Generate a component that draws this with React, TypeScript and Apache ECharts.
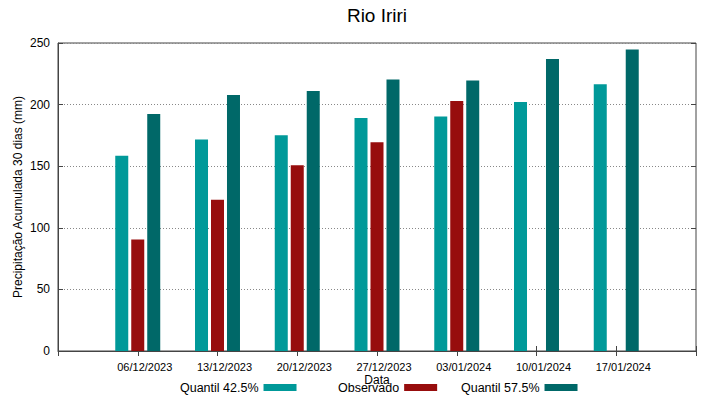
import React, { useEffect, useRef } from "react";
import * as echarts from "echarts";

const dates = ["06/12/2023", "13/12/2023", "20/12/2023", "27/12/2023", "03/01/2024", "10/01/2024", "17/01/2024"];
const quantil425 = [158.5, 171.7, 175.2, 189.1, 190.4, 202.1, 216.5];
const observado: (number | null)[] = [90.5, 122.8, 150.8, 169.5, 202.9, null, null];
const quantil575 = [192.3, 207.8, 211.0, 220.3, 219.5, 237.1, 244.7];
const yTicks = [0, 50, 100, 150, 200, 250];

const FONT = "Liberation Sans, Arial, sans-serif";
const C1 = "#009999";
const C2 = "#970d0d";
const C3 = "#006868";

export default function App() {
  const ref = useRef<HTMLDivElement>(null);
  useEffect(() => {
    if (!ref.current) return;
    const chart = echarts.init(ref.current, null, { renderer: "svg" });
    const cats = ["", ...dates, ""];
    const pad = (arr: (number | null)[]) => ["-", ...arr.map((v) => (v == null ? "-" : v)), "-"];
    const legendBase = (name: string, left: number) => ({
      data: [name],
      left,
      top: 381,
      padding: 0,
      align: "right" as const,
      icon: "rect",
      itemWidth: 33,
      itemHeight: 7,
      selectedMode: false,
      textStyle: { fontFamily: FONT, fontSize: 12.5, color: "#000" },
    });
    const barCommon = { type: "bar" as const, barWidth: 13, barGap: "23%" };
    chart.setOption({
      animation: false,
      backgroundColor: "#fff",
      title: {
        text: "Rio Iriri",
        left: 372,
        top: 1,
        textAlign: "center",
        textStyle: { fontFamily: FONT, fontSize: 19, fontWeight: "normal", color: "#000" },
      },
      legend: [
        legendBase("Quantil 42.5%", 180),
        legendBase("Observado", 338),
        legendBase("Quantil 57.5%", 461),
      ],
      grid: { left: 58, right: 23, top: 43, bottom: 48, show: true, borderColor: "#444", borderWidth: 1 },
      xAxis: [
        {
          type: "category",
          data: cats,
          boundaryGap: false,
          name: "Data",
          nameLocation: "middle",
          nameGap: 23,
          nameMoveOverlap: false,
          nameTextStyle: { fontFamily: FONT, fontSize: 12, color: "#000" },
          axisLine: { show: true, lineStyle: { color: "#444" } },
          axisTick: { show: true, inside: true, length: 5, interval: 0, lineStyle: { color: "#444" } },
          axisLabel: { interval: 0, margin: 10, fontFamily: FONT, fontSize: 11, color: "#000", padding: [0, 0, 0, 14] },
          splitLine: { show: false },
        },
        {
          type: "category",
          data: cats,
          boundaryGap: false,
          position: "top",
          axisLine: { show: false },
          axisTick: { show: true, inside: true, length: 5, interval: 0, lineStyle: { color: "#444" } },
          axisLabel: { show: false },
          splitLine: { show: false },
        },
      ],
      yAxis: [
        {
          type: "value",
          min: yTicks[0],
          max: yTicks[yTicks.length - 1],
          interval: 50,
          name: "Precipitação Acumulada 30 dias (mm)",
          nameLocation: "middle",
          nameGap: 34,
          nameMoveOverlap: false,
          nameTextStyle: { fontFamily: FONT, fontSize: 12, color: "#000" },
          axisLine: { show: true, lineStyle: { color: "#444" } },
          axisTick: { show: true, inside: true, length: 5, lineStyle: { color: "#444" } },
          axisLabel: { margin: 8, fontFamily: FONT, fontSize: 12, color: "#000" },
          splitLine: { show: true, lineStyle: { type: [1, 2], color: "#888", width: 1 } },
        },
        {
          type: "value",
          min: yTicks[0],
          max: yTicks[yTicks.length - 1],
          interval: 50,
          position: "right",
          axisLine: { show: false },
          axisTick: { show: true, inside: true, length: 5, lineStyle: { color: "#444" } },
          axisLabel: { show: false },
          splitLine: { show: false },
        },
      ],
      series: [
        { ...barCommon, name: "Quantil 42.5%", data: pad(quantil425), itemStyle: { color: C1 } },
        { ...barCommon, name: "Observado", data: pad(observado), itemStyle: { color: C2 } },
        { ...barCommon, name: "Quantil 57.5%", data: pad(quantil575), itemStyle: { color: C3 } },
      ],
    });
    return () => chart.dispose();
  }, []);
  return (
    <div
      ref={ref}
      style={{ position: "fixed", left: 0, top: 0, width: 719, height: 399, background: "#fff" }}
    />
  );
}
